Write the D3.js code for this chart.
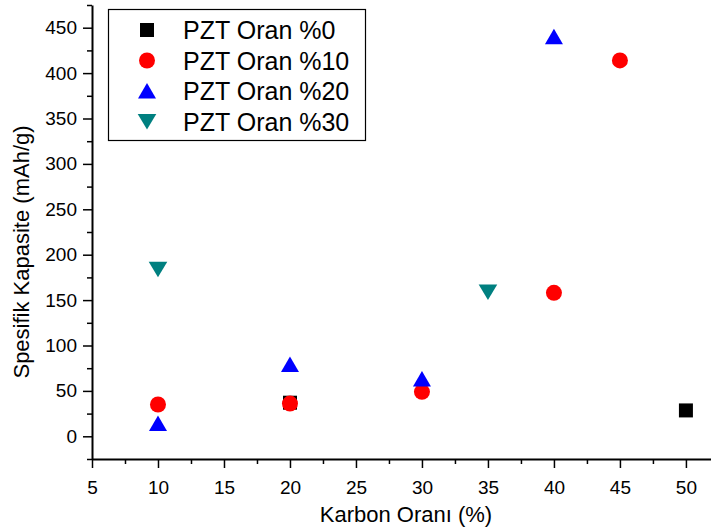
<!DOCTYPE html>
<html>
<head>
<meta charset="utf-8">
<script src="https://cdn.jsdelivr.net/npm/d3@7"></script>
<style>
  body { margin: 0; background: #fff; }
  svg text { font-family: "Liberation Sans", Arial, sans-serif; fill: #000; }
</style>
</head>
<body>
<div id="chart"></div>
<script>
var width = 711;
var height = 531;

// data
var carbon0 = [20, 50];
var cap0 = [37, 28.5];
var carbon10 = [10, 20, 30, 40, 45];
var cap10 = [35, 36, 49, 158, 414];
var carbon20 = [10, 20, 30, 40];
var cap20 = [14, 79, 63, 440];
var carbon30 = [10, 35];
var cap30 = [184, 159];

var seriesNames = ["PZT Oran %0", "PZT Oran %10", "PZT Oran %20", "PZT Oran %30"];
var seriesColors = ["#000000", "#ff0000", "#0000ff", "#008080"];
var seriesShapes = ["square", "circle", "up", "down"];

var xTicks = [5, 10, 15, 20, 25, 30, 35, 40, 45, 50];
var yTicks = [0, 50, 100, 150, 200, 250, 300, 350, 400, 450];

var series = [
  {x: carbon0, y: cap0},
  {x: carbon10, y: cap10},
  {x: carbon20, y: cap20},
  {x: carbon30, y: cap30}
];

// plot box (top is taken by window.top, so prefixed names)
var plotLeft = 92, plotRight = 711, plotTop = 5, plotBottom = 459;

var x = d3.scaleLinear().domain([5, 51.9]).range([plotLeft, plotRight]);
var y = d3.scaleLinear().domain([-25, 475]).range([plotBottom, plotTop]);

var svg = d3.select("#chart").append("svg")
  .attr("width", width)
  .attr("height", height);

// marker path centred on (0,0)
function markerPath(shape){
  if (shape == "square") return "M-7,-7H7V7H-7Z";
  if (shape == "circle") return "M-8,0A8,8 0 1,0 8,0A8,8 0 1,0 -8,0Z";
  if (shape == "up") return "M0,-8L9,7.5H-9Z";
  return "M0,8L9.3,-7.5H-9.3Z";
}

// minor ticks
var xMinor = d3.range(7.5, 52, 5);
var yMinor = d3.range(-25, 476, 50);

svg.append("g")
  .attr("transform", "translate(0," + plotBottom + ")")
  .call(d3.axisBottom(x).tickValues(xMinor).tickSize(5).tickSizeOuter(0).tickFormat(""))
  .call(g => g.select(".domain").remove())
  .selectAll("line").attr("stroke-width", 1.5);

svg.append("g")
  .attr("transform", "translate(" + plotLeft + ",0)")
  .call(d3.axisLeft(y).tickValues(yMinor).tickSize(5).tickSizeOuter(0).tickFormat(""))
  .call(g => g.select(".domain").remove())
  .selectAll("line").attr("stroke-width", 1.5);

// major axes
var xAxis = svg.append("g")
  .attr("transform", "translate(0," + plotBottom + ")")
  .call(d3.axisBottom(x).tickValues(xTicks).tickSize(9).tickSizeOuter(0).tickPadding(13));
xAxis.select(".domain").attr("stroke-width", 2);
xAxis.selectAll("line").attr("stroke-width", 1.5);
xAxis.selectAll("text").style("font-size", "19px");

var yAxis = svg.append("g")
  .attr("transform", "translate(" + plotLeft + ",0)")
  .call(d3.axisLeft(y).tickValues(yTicks).tickSize(9).tickSizeOuter(0).tickPadding(6));
yAxis.select(".domain").attr("stroke-width", 2);
yAxis.selectAll("line").attr("stroke-width", 1.5);
yAxis.selectAll("text").style("font-size", "19px");

// axis titles
svg.append("text")
  .attr("x", 406)
  .attr("y", 522)
  .attr("text-anchor", "middle")
  .style("font-size", "22px")
  .text("Karbon Oranı (%)");

svg.append("text")
  .attr("transform", "translate(29,252) rotate(-90)")
  .attr("text-anchor", "middle")
  .style("font-size", "22px")
  .text("Spesifik Kapasite (mAh/g)");

// points
series.forEach(function(s, i){
  svg.append("g").selectAll("path")
    .data(s.x.map(function(v, j){ return {x: v, y: s.y[j]}; }))
    .join("path")
    .attr("d", markerPath(seriesShapes[i]))
    .attr("transform", d => "translate(" + x(d.x) + "," + y(d.y) + ")")
    .attr("fill", seriesColors[i]);
});

// legend
var legend = svg.append("g");
legend.append("rect")
  .attr("x", 108.5).attr("y", 9.5)
  .attr("width", 257).attr("height", 131)
  .attr("fill", "#fff")
  .attr("stroke", "#000")
  .attr("stroke-width", 1.2);

seriesNames.forEach(function(name, i){
  var cy = 30 + i * 30.5;
  legend.append("path")
    .attr("d", markerPath(seriesShapes[i]))
    .attr("transform", "translate(147," + cy + ")")
    .attr("fill", seriesColors[i]);
  legend.append("text")
    .attr("x", 183)
    .attr("y", cy)
    .attr("dy", "0.36em")
    .style("font-size", "25px")
    .text(name);
});
</script>
</body>
</html>
